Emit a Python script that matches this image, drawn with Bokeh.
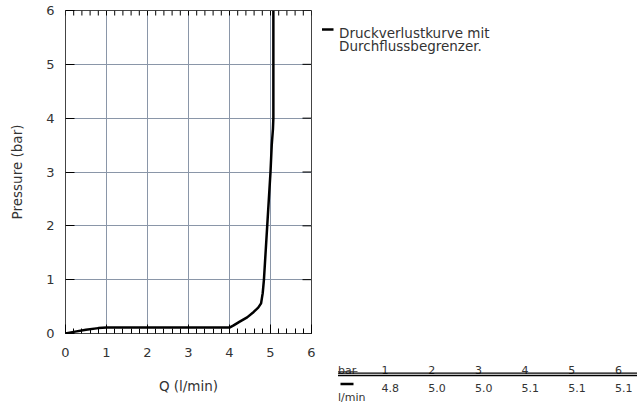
import math
from bokeh.plotting import figure
from bokeh.models import Range1d, FixedTicker
from bokeh.layouts import row
from bokeh.embed import file_html
from bokeh.resources import INLINE
from bokeh.core.properties import value

# Curve data (Q in l/min, pressure in bar)
flow = [0.0, 0.2, 0.5, 0.8, 1.0, 2.0, 3.0, 4.0, 4.1, 4.25, 4.43, 4.59, 4.7, 4.77, 4.81, 4.84, 4.88, 4.92, 4.96, 5.0, 5.03, 5.06, 5.07, 5.07, 5.07]
pressure = [0.0, 0.03, 0.07, 0.1, 0.11, 0.11, 0.11, 0.11, 0.15, 0.22, 0.3, 0.4, 0.48, 0.56, 0.75, 1.0, 1.5, 2.0, 2.5, 3.0, 3.5, 3.8, 4.0, 5.0, 6.0]

x_ticks = [0, 1, 2, 3, 4, 5, 6]
y_ticks = [0, 1, 2, 3, 4, 5, 6]
x_minor = [i / 5 for i in range(31)]

legend_lines = ["Druckverlustkurve mit", "Durchflussbegrenzer."]

table_bar = [1, 2, 3, 4, 5, 6]
table_lmin = [4.8, 5.0, 5.0, 5.1, 5.1, 5.1]

FONT = "DejaVu Sans"
TXT = "#333333"
GRID = "#8a96a8"
X_MAX, Y_MAX = x_ticks[-1], y_ticks[-1]

p = figure(width=320, height=403, output_backend="svg", toolbar_location=None,
           x_range=Range1d(x_ticks[0], X_MAX), y_range=Range1d(y_ticks[0], Y_MAX),
           min_border_left=65, min_border_right=9, min_border_top=10, min_border_bottom=70)
p.frame_align = False
p.outline_line_color = "#444444"
p.outline_line_width = 1

for ax in (p.xaxis[0], p.yaxis[0]):
    ax.major_label_text_font = FONT
    ax.major_label_text_font_size = "13px"
    ax.major_label_text_color = TXT
    ax.axis_label_text_font = FONT
    ax.axis_label_text_font_size = "13.5px"
    ax.axis_label_text_font_style = "normal"
    ax.axis_label_text_color = TXT
    ax.axis_line_color = None
    ax.major_tick_out = 0
    ax.minor_tick_out = 0
    ax.major_tick_line_color = "black"
    ax.minor_tick_line_color = "black"

p.xaxis.axis_label = "Q (l/min)"
p.yaxis.axis_label = "Pressure (bar)"
p.xaxis.ticker = FixedTicker(ticks=x_ticks, minor_ticks=x_minor)
p.yaxis.ticker = FixedTicker(ticks=y_ticks)
p.xaxis.major_tick_in = 9
p.xaxis.minor_tick_in = 5
p.yaxis.major_tick_in = 9
p.yaxis.minor_tick_in = 0
p.xaxis.major_label_standoff = 14
p.xaxis.axis_label_standoff = 18
p.yaxis.major_label_standoff = 11
p.yaxis.axis_label_standoff = 18

p.xgrid.grid_line_color = GRID
p.ygrid.grid_line_color = GRID
p.xgrid.ticker = FixedTicker(ticks=x_ticks)
p.ygrid.ticker = FixedTicker(ticks=y_ticks)

# inward ticks on the top and right frame edges
p.ray(x=x_minor, y=[Y_MAX] * len(x_minor), length=5, length_units="screen",
      angle=-math.pi / 2, line_color="black", line_width=1)
p.ray(x=[X_MAX] * len(y_ticks), y=y_ticks, length=9, length_units="screen",
      angle=math.pi, line_color="black", line_width=1)

p.line(flow, pressure, line_color="black", line_width=2.5)

# Right-hand panel: legend and table (panel pixel coordinates, y downward)
W2, H2 = 317, 403
q = figure(width=W2, height=H2, output_backend="svg", toolbar_location=None,
           x_range=Range1d(0, W2), y_range=Range1d(H2, 0),
           min_border=0, min_border_left=0, min_border_right=0,
           min_border_top=0, min_border_bottom=0)
q.frame_align = False
q.axis.visible = False
q.grid.visible = False
q.outline_line_color = None

# legend
q.segment(x0=[1.5], y0=[29], x1=[13], y1=[29], line_color="black", line_width=2.5)
q.text(x=[18.5, 18.5], y=[32.5, 45.5], text=legend_lines, text_font=value(FONT),
       text_font_size="13.5px", text_color=TXT, text_baseline="alphabetic")

# table
col_x = [61 + 46.7 * i for i in range(len(table_bar))]
q.text(x=[17.5], y=[369.5], text=["bar"], text_font=value(FONT), text_font_size="11px",
       text_color=TXT, text_baseline="alphabetic")
q.segment(x0=[17.5], y0=[371], x1=[37], y1=[371], line_color=TXT, line_width=0.8)
q.text(x=col_x, y=[369.5] * len(table_bar), text=[str(b) for b in table_bar],
       text_font=value(FONT), text_font_size="11px", text_color=TXT, text_baseline="alphabetic")
q.segment(x0=[17.5, 17.5], y0=[372.6, 375.0], x1=[W2, W2], y1=[372.6, 375.0],
          line_color="black", line_width=1.4)
q.segment(x0=[20], y0=[383.5], x1=[33], y1=[383.5], line_color="black", line_width=2.5)
q.text(x=col_x, y=[387] * len(table_lmin), text=["%.1f" % v for v in table_lmin],
       text_font=value(FONT), text_font_size="11px", text_color=TXT, text_baseline="alphabetic")
q.text(x=[17.5], y=[396.5], text=["l/min"], text_font=value(FONT), text_font_size="11px",
       text_color=TXT, text_baseline="alphabetic")

layout = row(p, q, spacing=0)
open("out.html", "w").write(file_html(layout, INLINE))
